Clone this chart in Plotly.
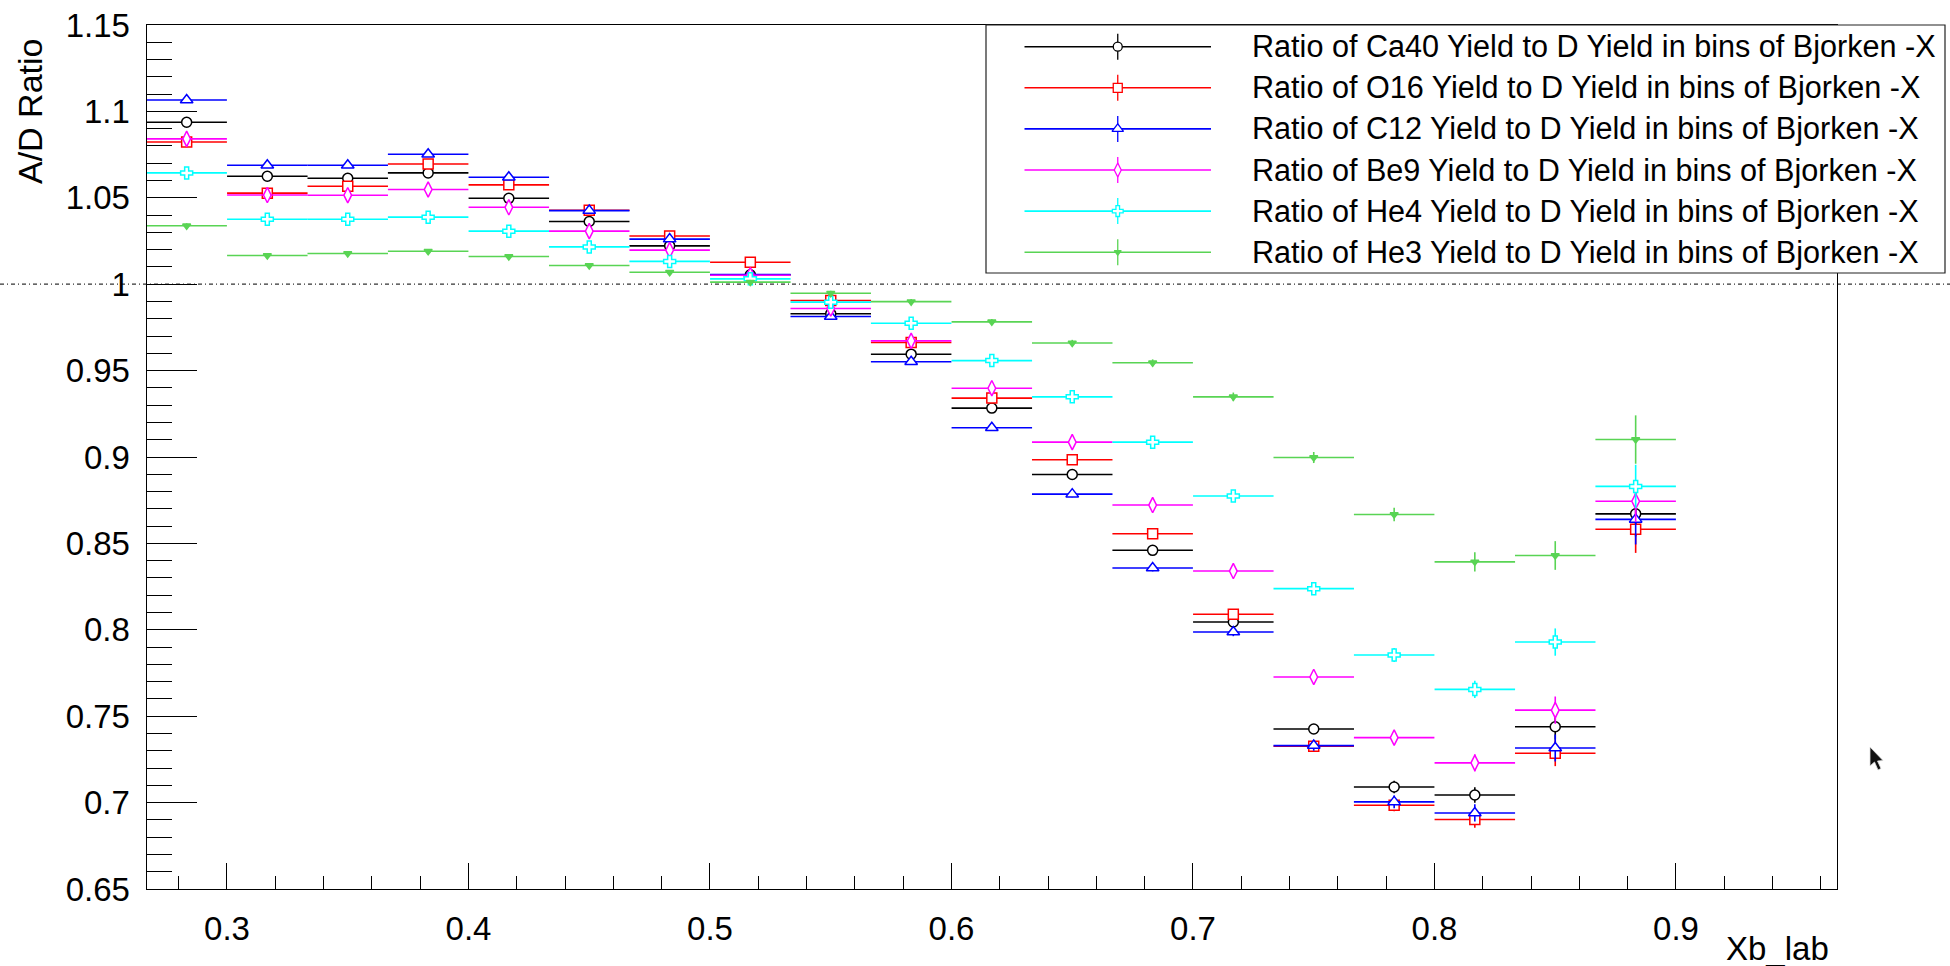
import plotly.graph_objects as go

# Bjorken-x bin centres (bin width 1/30)
xb_centers = [0.2833, 0.3167, 0.3500, 0.3833, 0.4167, 0.4500, 0.4833, 0.5167, 0.5500, 0.5833,
              0.6167, 0.6500, 0.6833, 0.7167, 0.7500, 0.7833, 0.8167, 0.8500, 0.8833]
xb_half_width = 1.0 / 60.0

# A/D yield ratios per target
ratio_ca40 = [1.0937, 1.0625, 1.0613, 1.0644, 1.0497, 1.0363, 1.0222, 1.0054, 0.9829, 0.9595,
              0.9283, 0.8899, 0.8460, 0.8045, 0.7426, 0.7090, 0.7044, 0.7439, 0.8671]
ratio_o16 = [1.0823, 1.0527, 1.0567, 1.0696, 1.0575, 1.0428, 1.0279, 1.0127, 0.9906, 0.9663,
             0.9341, 0.8984, 0.8556, 0.8090, 0.7326, 0.6985, 0.6902, 0.7286, 0.8582]
ratio_c12 = [1.1066, 1.0688, 1.0688, 1.0752, 1.0619, 1.0426, 1.0261, 1.0056, 0.9813, 0.9551,
             0.9169, 0.8785, 0.8358, 0.7987, 0.7330, 0.7004, 0.6940, 0.7316, 0.8639]
ratio_be9 = [1.0841, 1.0516, 1.0515, 1.0548, 1.0445, 1.0307, 1.0197, 1.0052, 0.9859, 0.9672,
             0.9398, 0.9086, 0.8722, 0.8340, 0.7727, 0.7376, 0.7230, 0.7535, 0.8744]
ratio_he4 = [1.0644, 1.0376, 1.0376, 1.0388, 1.0307, 1.0216, 1.0132, 1.0031, 0.9896, 0.9774,
             0.9558, 0.9348, 0.9086, 0.8774, 0.8238, 0.7854, 0.7655, 0.7929, 0.8830]
ratio_he3 = [1.0338, 1.0166, 1.0178, 1.0191, 1.0160, 1.0108, 1.0069, 1.0012, 0.9948, 0.9899,
             0.9782, 0.9660, 0.9545, 0.9348, 0.8997, 0.8667, 0.8393, 0.8430, 0.9101]

# statistical errors on the ratios
err_ca40 = [0.0015, 0.0012, 0.0012, 0.0012, 0.0012, 0.0012, 0.0012, 0.0013, 0.0014, 0.0015,
            0.0016, 0.0018, 0.0020, 0.0023, 0.0028, 0.0036, 0.0045, 0.0075, 0.0130]
err_o16 = [0.0015, 0.0012, 0.0012, 0.0012, 0.0012, 0.0012, 0.0012, 0.0013, 0.0014, 0.0015,
           0.0016, 0.0018, 0.0020, 0.0023, 0.0028, 0.0035, 0.0048, 0.0075, 0.0137]
err_c12 = [0.0015, 0.0012, 0.0012, 0.0012, 0.0012, 0.0012, 0.0012, 0.0013, 0.0014, 0.0015,
           0.0016, 0.0018, 0.0020, 0.0024, 0.0030, 0.0037, 0.0050, 0.0078, 0.0145]
err_be9 = [0.0015, 0.0012, 0.0012, 0.0012, 0.0012, 0.0012, 0.0012, 0.0013, 0.0014, 0.0015,
           0.0016, 0.0018, 0.0020, 0.0024, 0.0030, 0.0039, 0.0050, 0.0079, 0.0120]
err_he4 = [0.0015, 0.0012, 0.0012, 0.0012, 0.0012, 0.0012, 0.0012, 0.0013, 0.0014, 0.0015,
           0.0016, 0.0018, 0.0020, 0.0024, 0.0030, 0.0040, 0.0050, 0.0079, 0.0125]
err_he3 = [0.0015, 0.0012, 0.0012, 0.0012, 0.0012, 0.0012, 0.0012, 0.0013, 0.0014, 0.0015,
           0.0016, 0.0018, 0.0020, 0.0025, 0.0032, 0.0039, 0.0056, 0.0083, 0.0140]

legend_labels = [
    "Ratio of Ca40 Yield to D Yield in bins of Bjorken -X",
    "Ratio of O16 Yield to D Yield in bins of Bjorken -X",
    "Ratio of C12 Yield to D Yield in bins of Bjorken -X",
    "Ratio of Be9 Yield to D Yield in bins of Bjorken -X",
    "Ratio of He4 Yield to D Yield in bins of Bjorken -X",
    "Ratio of He3 Yield to D Yield in bins of Bjorken -X",
]

series = [
    (ratio_ca40, err_ca40, "#000000", "circle", 10, "white"),
    (ratio_o16, err_o16, "#ff0000", "square", 10, "white"),
    (ratio_c12, err_c12, "#0000ff", "triangle-up", 11, "white"),
    (ratio_be9, err_be9, "#ff00ff", "diamond-tall", 11, "white"),
    (ratio_he4, err_he4, "#00ffff", "cross", 10, "white"),
    (ratio_he3, err_he3, "#59d454", "triangle-down", 7, "#59d454"),
]

W, H = 1950, 966
FONT = "Liberation Sans, Arial, Helvetica, sans-serif"
# frame of the pad in pixels
PL, PR, PT, PB = 146.5, 1837.0, 25.0, 889.0

fig = go.Figure()

for (vals, errs, col, sym, size, fill), name in zip(series, legend_labels):
    fig.add_trace(go.Scatter(
        x=xb_centers, y=vals, mode="markers", name=name, showlegend=False,
        marker=dict(symbol=sym, size=size, color=fill, line=dict(color=col, width=1.5)),
        error_x=dict(type="constant", value=xb_half_width, width=0, thickness=1.6, color=col),
        error_y=dict(type="data", array=errs, width=0, thickness=1.6, color=col),
        xaxis="x", yaxis="y",
    ))

# legend box drawn in canvas pixel coordinates
leg_x0, leg_x1, leg_y0, leg_y1 = 986, 1945, 25, 273
row_y = [46.7 + 41.1 * i for i in range(len(series))]
line_x0, line_x1 = 1024.5, 1211.0
mark_x = 0.5 * (line_x0 + line_x1)

for (vals, errs, col, sym, size, fill), yy in zip(series, row_y):
    fig.add_trace(go.Scatter(
        x=[mark_x], y=[yy], mode="markers", showlegend=False, hoverinfo="skip",
        marker=dict(symbol=sym, size=size - 1, color=fill, line=dict(color=col, width=1.3)),
        error_x=dict(type="constant", value=mark_x - line_x0, width=0, thickness=1.6, color=col),
        error_y=dict(type="constant", value=13, width=0, thickness=1.3, color=col),
        xaxis="x2", yaxis="y2",
    ))

annotations = []
for label, yy in zip(legend_labels, row_y):
    annotations.append(dict(
        x=1250, y=yy, xref="x2", yref="y2", text=label, showarrow=False,
        xanchor="left", yanchor="middle", font=dict(family=FONT, size=30.6, color="black"),
    ))

# axis titles (ROOT style: at the far ends of the axes)
annotations.append(dict(
    x=30, y=111, xref="x2", yref="y2", text="A/D Ratio", showarrow=False, textangle=-90,
    xanchor="center", yanchor="middle", font=dict(family=FONT, size=34, color="black"),
))
annotations.append(dict(
    x=1831, y=948, xref="x2", yref="y2", text="Xb_lab", showarrow=False,
    xanchor="right", yanchor="middle", font=dict(family=FONT, size=33, color="black"),
))

shapes = [
    # legend frame
    dict(type="rect", xref="x2", yref="y2", x0=leg_x0, x1=leg_x1, y0=leg_y0, y1=leg_y1,
         line=dict(color="#222222", width=1.2), fillcolor="white", layer="below"),
    # reference line at ratio = 1 across the full canvas
    dict(type="line", xref="x2", yref="y", x0=0, x1=W, y0=1.0, y1=1.0,
         line=dict(color="#333333", width=1.2, dash="4px,3px,1px,3px"), layer="below"),
    # pointer arrow
    dict(type="path", xref="x2", yref="y2",
         path="M 1870 747 L 1870 766 L 1874.5 762 L 1878 770 L 1881 768.5 L 1877.5 761 L 1883 760.5 Z",
         fillcolor="#111111", line=dict(color="#dddddd", width=0.8), layer="above"),
]

fig.update_layout(
    width=W, height=H,
    margin=dict(l=0, r=0, t=0, b=0, pad=0, autoexpand=False),
    paper_bgcolor="white", plot_bgcolor="rgba(0,0,0,0)",
    showlegend=False,
    annotations=annotations, shapes=shapes,
    xaxis=dict(
        domain=[PL / W, PR / W], range=[0.26667, 0.96667], anchor="y", automargin=False,
        tick0=0, dtick=0.1, ticks="inside", ticklen=26, tickwidth=1, tickcolor="black",
        minor=dict(dtick=0.02, tick0=0, ticks="inside", ticklen=13, tickwidth=1, tickcolor="black"),
        showline=True, linecolor="black", linewidth=1, mirror=True,
        showgrid=False, zeroline=False, ticklabelstandoff=10,
        tickfont=dict(family=FONT, size=33, color="black"),
    ),
    yaxis=dict(
        domain=[1 - PB / H, 1 - PT / H], range=[0.65, 1.15], anchor="x", automargin=False,
        tick0=0, dtick=0.05, ticks="inside", ticklen=50, tickwidth=1, tickcolor="black",
        minor=dict(dtick=0.01, tick0=0, ticks="inside", ticklen=25, tickwidth=1, tickcolor="black"),
        showline=True, linecolor="black", linewidth=1, mirror=True,
        showgrid=False, zeroline=False, ticklabelstandoff=9,
        tickfont=dict(family=FONT, size=33, color="black"),
    ),
    xaxis2=dict(domain=[0, 1], range=[0, W], anchor="y2", visible=False, fixedrange=True,
                automargin=False),
    yaxis2=dict(domain=[0, 1], range=[H, 0], anchor="x2", visible=False, fixedrange=True,
                automargin=False),
)

fig.write_html("out.html")
